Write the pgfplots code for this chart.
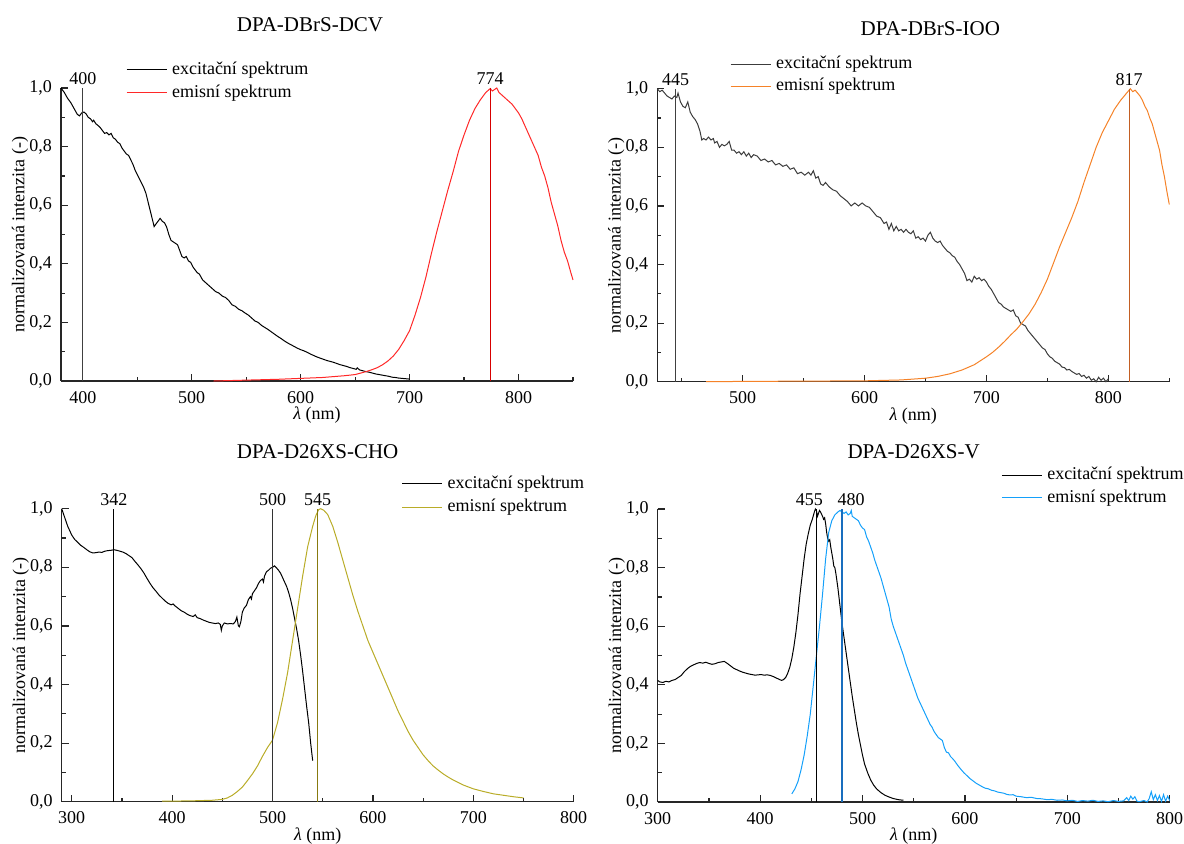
\documentclass[border=0pt]{standalone}
\usepackage{pgfplots}
\pgfplotsset{compat=1.18}
\usepackage{fontspec}
\setmainfont{Liberation Serif}
\definecolor{cexc}{RGB}{0,0,0}
\definecolor{cexcg}{RGB}{60,60,60}
\definecolor{cred}{RGB}{255,40,40}
\definecolor{credl}{RGB}{215,0,0}
\definecolor{corange}{RGB}{245,130,40}
\definecolor{corangel}{RGB}{195,95,35}
\definecolor{colive}{RGB}{185,172,40}
\definecolor{colivel}{RGB}{135,122,15}
\definecolor{cblue}{RGB}{20,160,250}
\definecolor{cbluel}{RGB}{25,110,190}
\pgfplotsset{
  myax/.style={
    scale only axis, width=256pt, height=146.5pt,
    ymin=0, ymax=1,
    axis x line*=bottom, axis y line*=left,
    axis line style={line width=0.6pt, color=black!85},
    every tick/.style={line width=0.6pt, black!85},
    major tick length=3.5pt, minor tick length=2pt,
    tick align=inside,
    ytick={0,0.2,0.4,0.6,0.8,1.0},
    minor ytick={0.1,0.3,0.5,0.7,0.9},
    /pgf/number format/assume math mode=true,
    yticklabel style={xshift=-1pt, /pgf/number format/fixed, /pgf/number format/fixed zerofill, /pgf/number format/precision=1, /pgf/number format/use comma},
    xticklabel style={yshift=-1.5pt, /pgf/number format/fixed, /pgf/number format/precision=0, /pgf/number format/1000 sep={}},
    font=\fontsize{9pt}{11pt}\selectfont,
    ylabel={normalizovaná intenzita (-)},
    xlabel={\textit{λ} (nm)},
    ylabel style={at={(axis description cs:-0.08,0.5)}, anchor=center},
    xlabel style={at={(axis description cs:0.5,-0.116)}, anchor=center},
    title style={at={(0.5,1)}, anchor=center, font=\fontsize{10.5pt}{12pt}\selectfont},
    clip=false,
    legend cell align=left,
    legend image code/.code={\draw[#1] (0pt,0pt) -- (20pt,0pt);},
    legend style={draw=none, fill=none, inner sep=0pt, outer sep=0pt,
      nodes={inner sep=0pt, text height=6.5pt, text depth=2pt},
      column sep=2.5pt, row sep=3pt, anchor=north west},
    every axis plot/.append style={line width=0.5pt},
  },
  pk/.style={line width=0.55pt, forget plot},
}
\begin{document}
\begin{tikzpicture}
\useasboundingbox (0,0) rectangle (592pt,-421.5pt);
% ---------------- top left
\begin{axis}[myax, at={(30.5pt,-190.5pt)}, anchor=south west,
  xmin=380, xmax=850, xtick={400,500,600,700,800}, minor xtick={450,550,650,750,850},
  title={DPA-DBrS-DCV}, title style={yshift=25.5pt, xshift=-3.5pt},
  legend style={at={(axis description cs:0.127,1.092)}}]
\addplot[cexc] coordinates {(380,1.0)(383,0.985)(386,0.965)(389,0.95)(392,0.93)(395,0.91)(397,0.905)(399,0.915)(401,0.918)(403,0.912)(405,0.9)(407,0.895)(409,0.885)(410,0.89)(412,0.878)(414,0.872)(416,0.865)(418,0.855)(420,0.845)(422,0.848)(424,0.84)(426,0.845)(428,0.83)(430,0.825)(432,0.815)(434,0.81)(436,0.795)(438,0.785)(440,0.775)(442,0.77)(444,0.755)(446,0.74)(448,0.72)(450,0.705)(452,0.69)(454,0.675)(456,0.66)(458,0.64)(460,0.61)(462,0.58)(464,0.55)(465.5,0.527)(467,0.535)(469,0.545)(471,0.555)(473,0.545)(475,0.54)(477,0.525)(479,0.5)(481,0.48)(483,0.475)(485,0.47)(487,0.465)(489,0.445)(491,0.425)(493,0.42)(495,0.425)(497,0.41)(499,0.405)(501,0.39)(503,0.38)(505,0.37)(507,0.365)(510,0.345)(513,0.335)(516,0.325)(519,0.315)(522,0.305)(525,0.3)(528,0.29)(531,0.285)(534,0.275)(537,0.26)(540,0.255)(543,0.245)(546,0.24)(549,0.232)(552,0.225)(555,0.215)(558,0.205)(561,0.2)(564,0.19)(567,0.183)(570,0.176)(573,0.168)(576,0.16)(579,0.152)(582,0.145)(585,0.137)(588,0.13)(591,0.124)(594,0.118)(597,0.112)(600,0.107)(603,0.103)(606,0.098)(609,0.092)(612,0.087)(615,0.082)(618,0.078)(621,0.074)(624,0.07)(627,0.067)(630,0.064)(633,0.06)(636,0.056)(639,0.053)(642,0.05)(645,0.046)(648,0.043)(651,0.04)(652,0.045)(654,0.038)(657,0.035)(660,0.032)(663,0.03)(666,0.027)(669,0.024)(672,0.022)(675,0.02)(678,0.018)(681,0.016)(684,0.013)(687,0.012)(690,0.01)(693,0.009)(696,0.008)(699,0.007)(700,0.006)};
\addlegendentry{excitační spektrum}
\addplot[cred] coordinates {(520,0.0)(540,0.002)(560,0.004)(580,0.006)(600,0.009)(620,0.012)(640,0.018)(650,0.022)(655,0.027)(660,0.032)(665,0.038)(670,0.045)(675,0.055)(680,0.068)(685,0.085)(690,0.108)(695,0.138)(700,0.172)(705,0.225)(710,0.285)(715,0.355)(720,0.435)(725,0.51)(730,0.58)(735,0.65)(740,0.715)(745,0.785)(750,0.84)(755,0.89)(760,0.93)(765,0.96)(770,0.985)(774,0.998)(776,0.99)(778,0.995)(780,1.0)(782,0.985)(785,0.975)(788,0.965)(791,0.955)(794,0.945)(797,0.93)(800,0.915)(803,0.895)(806,0.87)(809,0.845)(812,0.82)(815,0.795)(818,0.77)(821,0.73)(824,0.7)(827,0.66)(830,0.61)(833,0.57)(836,0.53)(839,0.48)(842,0.44)(845,0.41)(848,0.37)(850,0.345)};
\addlegendentry{emisní spektrum}
\addplot[pk, black!75] coordinates {(400,0)(400,1)};
\addplot[pk, credl] coordinates {(774,0)(774,1)};
\node[anchor=south, inner sep=0pt, yshift=1.5pt] at (axis cs:400,1) {400};
\node[anchor=south, inner sep=0pt, yshift=1.5pt] at (axis cs:774,1) {774};
\end{axis}
% ---------------- top right
\begin{axis}[myax, at={(328.65pt,-190.85pt)}, anchor=south west,
  xmin=430, xmax=850, xtick={500,600,700,800}, minor xtick={450,550,650,750,850},
  title={DPA-DBrS-IOO}, title style={yshift=24pt, xshift=8.5pt},
  legend style={at={(axis description cs:0.142,1.112)}, row sep=2.5pt}]
\addplot[cexcg] coordinates {(430,1.0)(432,0.99)(434,0.995)(436,0.985)(438,0.975)(440,0.97)(442,0.965)(444,0.975)(446,0.97)(447,0.985)(449,0.955)(451,0.94)(453,0.935)(455,0.955)(457,0.92)(459,0.905)(461,0.895)(463,0.88)(465,0.855)(466.5,0.825)(468,0.83)(470,0.825)(472,0.835)(474,0.825)(476,0.83)(477,0.815)(479,0.82)(481,0.8)(483,0.81)(485,0.805)(487,0.81)(489,0.82)(491,0.79)(493,0.79)(495,0.78)(497,0.785)(499,0.775)(501,0.785)(503,0.77)(505,0.78)(507,0.765)(509,0.775)(512,0.77)(515,0.755)(518,0.76)(521,0.75)(524,0.755)(527,0.74)(530,0.745)(533,0.735)(536,0.74)(539,0.725)(542,0.73)(545,0.71)(548,0.715)(551,0.705)(554,0.715)(556,0.705)(558,0.72)(560,0.695)(562,0.7)(564,0.675)(566,0.67)(568,0.68)(571,0.665)(574,0.655)(577,0.65)(580,0.635)(583,0.625)(586,0.615)(589,0.6)(592,0.61)(595,0.6)(598,0.61)(601,0.6)(604,0.595)(607,0.58)(610,0.565)(613,0.56)(616,0.54)(618,0.545)(620,0.52)(622,0.54)(624,0.515)(626,0.53)(628,0.515)(630,0.52)(632,0.51)(634,0.52)(636,0.51)(638,0.505)(640,0.515)(642,0.49)(644,0.495)(646,0.485)(648,0.49)(650,0.48)(652,0.5)(654,0.51)(656,0.49)(658,0.48)(660,0.475)(662,0.48)(664,0.465)(666,0.455)(668,0.445)(670,0.44)(672,0.43)(674,0.425)(676,0.41)(678,0.4)(680,0.385)(682,0.37)(684,0.345)(686,0.35)(688,0.34)(690,0.36)(692,0.35)(694,0.355)(696,0.345)(698,0.35)(700,0.34)(702,0.325)(704,0.315)(706,0.3)(708,0.285)(710,0.27)(712,0.265)(714,0.255)(716,0.25)(718,0.245)(720,0.24)(722,0.245)(724,0.225)(726,0.22)(728,0.2)(730,0.195)(732,0.19)(734,0.175)(736,0.165)(738,0.155)(740,0.145)(742,0.135)(744,0.125)(746,0.115)(748,0.11)(750,0.095)(752,0.085)(754,0.08)(756,0.07)(758,0.065)(760,0.06)(762,0.05)(764,0.048)(766,0.04)(768,0.042)(770,0.035)(772,0.03)(774,0.025)(776,0.028)(778,0.018)(780,0.022)(782,0.012)(784,0.018)(786,0.005)(788,0.01)(790,0.0)(792,0.015)(794,0.005)(796,0.012)(798,0.0)(800,0.01)};
\addlegendentry{excitační spektrum}
\addplot[corange] coordinates {(470,0.0)(500,0.001)(550,0.002)(600,0.003)(630,0.006)(650,0.012)(660,0.018)(670,0.027)(680,0.04)(690,0.058)(700,0.085)(705,0.1)(710,0.118)(715,0.138)(720,0.16)(725,0.18)(730,0.205)(735,0.232)(740,0.265)(745,0.305)(750,0.35)(755,0.405)(760,0.46)(765,0.51)(770,0.56)(775,0.615)(780,0.68)(785,0.74)(790,0.8)(795,0.85)(800,0.89)(805,0.93)(810,0.96)(813,0.975)(816,0.99)(818,1.0)(820,0.99)(822,0.995)(824,0.985)(826,0.975)(828,0.96)(830,0.94)(832,0.925)(834,0.9)(836,0.88)(838,0.85)(840,0.82)(842,0.79)(844,0.74)(846,0.7)(848,0.65)(850,0.605)};
\addlegendentry{emisní spektrum}
\addplot[pk, black!75] coordinates {(445,0)(445,1)};
\addplot[pk, corangel] coordinates {(817,0)(817,1)};
\node[anchor=south, inner sep=0pt, yshift=1.5pt] at (axis cs:445,1) {445};
\node[anchor=south, inner sep=0pt, yshift=1.5pt] at (axis cs:817,1) {817};
\end{axis}
% ---------------- bottom left
\begin{axis}[myax, at={(30.85pt,-400.85pt)}, anchor=south west,
  xmin=290, xmax=800, xtick={300,400,500,600,700,800}, minor xtick={350,450,550,650,750},
  title={DPA-D26XS-CHO}, title style={yshift=22.3pt},
  legend style={at={(axis description cs:0.664,1.114)}, row sep=3.15pt}]
\addplot[cexc] coordinates {(290,1.0)(292,0.98)(294,0.96)(296,0.94)(298,0.925)(300,0.91)(303,0.895)(306,0.885)(309,0.875)(312,0.868)(315,0.86)(318,0.853)(321,0.849)(324,0.85)(327,0.852)(330,0.851)(333,0.855)(336,0.857)(339,0.858)(342,0.86)(345,0.858)(348,0.855)(351,0.852)(354,0.847)(357,0.84)(360,0.833)(363,0.82)(366,0.808)(369,0.795)(372,0.78)(375,0.762)(378,0.745)(381,0.73)(384,0.718)(387,0.705)(390,0.695)(393,0.685)(396,0.677)(399,0.672)(401,0.675)(403,0.668)(406,0.66)(409,0.652)(412,0.647)(415,0.64)(418,0.635)(421,0.632)(423,0.638)(425,0.628)(428,0.625)(431,0.62)(434,0.616)(437,0.612)(440,0.61)(443,0.608)(446,0.61)(448,0.605)(449,0.585)(450,0.6)(452,0.61)(455,0.607)(458,0.608)(461,0.607)(463,0.615)(464.5,0.63)(466,0.6)(467,0.597)(468.5,0.615)(470,0.648)(472,0.662)(474,0.67)(476,0.69)(478,0.7)(479,0.692)(480,0.71)(482,0.72)(484,0.73)(486,0.745)(488,0.755)(490,0.76)(491,0.75)(492,0.77)(494,0.785)(496,0.79)(498,0.797)(500,0.8)(502,0.805)(504,0.798)(506,0.79)(508,0.78)(510,0.765)(512,0.75)(514,0.735)(516,0.715)(518,0.69)(520,0.66)(522,0.625)(524,0.59)(526,0.55)(528,0.5)(530,0.445)(532,0.385)(534,0.325)(536,0.27)(538,0.2)(540,0.14)};
\addlegendentry{excitační spektrum}
\addplot[colive] coordinates {(390,0.002)(400,0.002)(420,0.003)(440,0.005)(450,0.008)(455,0.013)(460,0.022)(465,0.035)(470,0.05)(475,0.072)(480,0.095)(485,0.122)(490,0.155)(495,0.185)(500,0.21)(505,0.27)(510,0.35)(515,0.44)(520,0.55)(525,0.66)(530,0.77)(535,0.87)(540,0.94)(543,0.975)(546,0.997)(548,1.0)(551,0.995)(555,0.98)(560,0.94)(565,0.885)(570,0.825)(575,0.765)(580,0.705)(585,0.65)(590,0.6)(595,0.55)(600,0.51)(605,0.47)(610,0.43)(615,0.39)(620,0.35)(625,0.31)(630,0.275)(635,0.24)(640,0.21)(645,0.185)(650,0.16)(655,0.14)(660,0.122)(665,0.108)(670,0.095)(675,0.084)(680,0.074)(690,0.057)(700,0.044)(710,0.035)(720,0.027)(730,0.022)(740,0.017)(745,0.015)(750,0.013)};
\addlegendentry{emisní spektrum}
\addplot[pk, black] coordinates {(342,0)(342,1)};
\addplot[pk, black!80] coordinates {(500,0)(500,1)};
\addplot[pk, colivel] coordinates {(545,0)(545,1)};
\node[anchor=south, inner sep=0pt, yshift=1.5pt] at (axis cs:342,1) {342};
\node[anchor=south, inner sep=0pt, yshift=1.5pt] at (axis cs:500,1) {500};
\node[anchor=south, inner sep=0pt, yshift=1.5pt] at (axis cs:545,1) {545};
\end{axis}
% ---------------- bottom right
\begin{axis}[myax, at={(328.85pt,-401pt)}, anchor=south west,
  xmin=300, xmax=800, xtick={300,400,500,600,700,800}, minor xtick={350,450,550,650,750},
  title={DPA-D26XS-V}, title style={yshift=22.5pt},
  legend style={at={(axis description cs:0.671,1.144)}, row sep=2.8pt}]
\addplot[cexc] coordinates {(300,0.415)(302,0.41)(305,0.408)(308,0.412)(311,0.41)(314,0.415)(317,0.418)(320,0.425)(323,0.432)(326,0.445)(329,0.455)(332,0.463)(335,0.468)(338,0.473)(341,0.476)(344,0.474)(347,0.477)(350,0.473)(353,0.47)(356,0.472)(359,0.476)(362,0.478)(365,0.48)(368,0.473)(371,0.465)(374,0.457)(377,0.452)(380,0.447)(383,0.443)(386,0.44)(389,0.437)(392,0.435)(395,0.433)(398,0.434)(401,0.435)(404,0.433)(407,0.434)(410,0.432)(413,0.428)(416,0.423)(419,0.418)(421,0.415)(423,0.418)(425,0.425)(427,0.44)(429,0.46)(431,0.49)(433,0.53)(435,0.58)(437,0.64)(439,0.71)(441,0.77)(443,0.83)(445,0.88)(447,0.915)(449,0.945)(451,0.965)(453,0.99)(454,1.0)(455,0.995)(456,0.975)(457,0.985)(458,0.995)(459,0.99)(461,0.975)(462,0.965)(463,0.97)(464,0.95)(465,0.92)(466,0.9)(467,0.89)(468,0.895)(469,0.87)(470,0.85)(471,0.83)(472,0.805)(473,0.8)(474,0.78)(476,0.73)(478,0.67)(480,0.61)(482,0.56)(484,0.51)(486,0.46)(488,0.41)(490,0.36)(492,0.315)(494,0.27)(496,0.23)(498,0.195)(500,0.16)(502,0.13)(505,0.1)(508,0.075)(511,0.057)(514,0.044)(518,0.032)(522,0.023)(526,0.017)(530,0.012)(535,0.008)(540,0.006)};
\addlegendentry{excitační spektrum}
\addplot[cblue] coordinates {(431,0.028)(434,0.045)(437,0.07)(440,0.11)(443,0.16)(446,0.225)(449,0.3)(452,0.4)(455,0.5)(458,0.6)(461,0.71)(464,0.83)(467,0.92)(470,0.96)(473,0.98)(476,0.99)(478,0.995)(480,0.99)(482,0.985)(484,0.99)(486,0.98)(488,0.985)(489,0.995)(490,0.975)(492,0.97)(494,0.965)(496,0.96)(498,0.945)(500,0.935)(502,0.93)(504,0.905)(506,0.89)(508,0.87)(510,0.85)(512,0.825)(514,0.805)(516,0.785)(518,0.765)(520,0.74)(522,0.715)(524,0.69)(526,0.665)(528,0.625)(530,0.6)(532,0.58)(534,0.56)(536,0.54)(538,0.52)(540,0.5)(542,0.475)(544,0.455)(546,0.435)(548,0.415)(550,0.395)(552,0.375)(554,0.355)(556,0.34)(558,0.325)(560,0.31)(562,0.295)(564,0.28)(566,0.265)(568,0.255)(570,0.24)(572,0.23)(574,0.22)(576,0.215)(578,0.21)(580,0.185)(582,0.17)(584,0.168)(586,0.155)(588,0.148)(590,0.14)(593,0.125)(596,0.112)(599,0.1)(602,0.09)(605,0.08)(608,0.072)(611,0.064)(614,0.058)(617,0.052)(620,0.047)(623,0.045)(626,0.04)(629,0.038)(632,0.034)(635,0.032)(638,0.03)(641,0.026)(644,0.024)(647,0.025)(650,0.02)(655,0.018)(660,0.015)(665,0.016)(670,0.012)(675,0.011)(680,0.008)(685,0.009)(690,0.006)(695,0.007)(700,0.004)(705,0.006)(710,0.002)(715,0.005)(720,0.003)(725,0.006)(730,0.002)(735,0.004)(740,0.001)(745,0.005)(750,0.002)(755,0.004)(758,0.015)(760,0.005)(762,0.02)(764,0.01)(766,0.018)(768,0.003)(770,0.001)(775,0.005)(778,0.0)(780,0.012)(782,0.035)(784,0.008)(786,0.025)(788,0.005)(790,0.022)(792,0.002)(794,0.025)(796,0.003)(798,0.02)(800,0.005)};
\addlegendentry{emisní spektrum}
\addplot[pk, black] coordinates {(455,0)(455,1)};
\addplot[pk, cbluel] coordinates {(480,0)(480,1)};
\node[anchor=south, inner sep=0pt, yshift=1.5pt, xshift=-3.5pt] at (axis cs:455,1) {455};
\node[anchor=south, inner sep=0pt, yshift=1.5pt, xshift=4.5pt] at (axis cs:480,1) {480};
\end{axis}
\end{tikzpicture}
\end{document}
